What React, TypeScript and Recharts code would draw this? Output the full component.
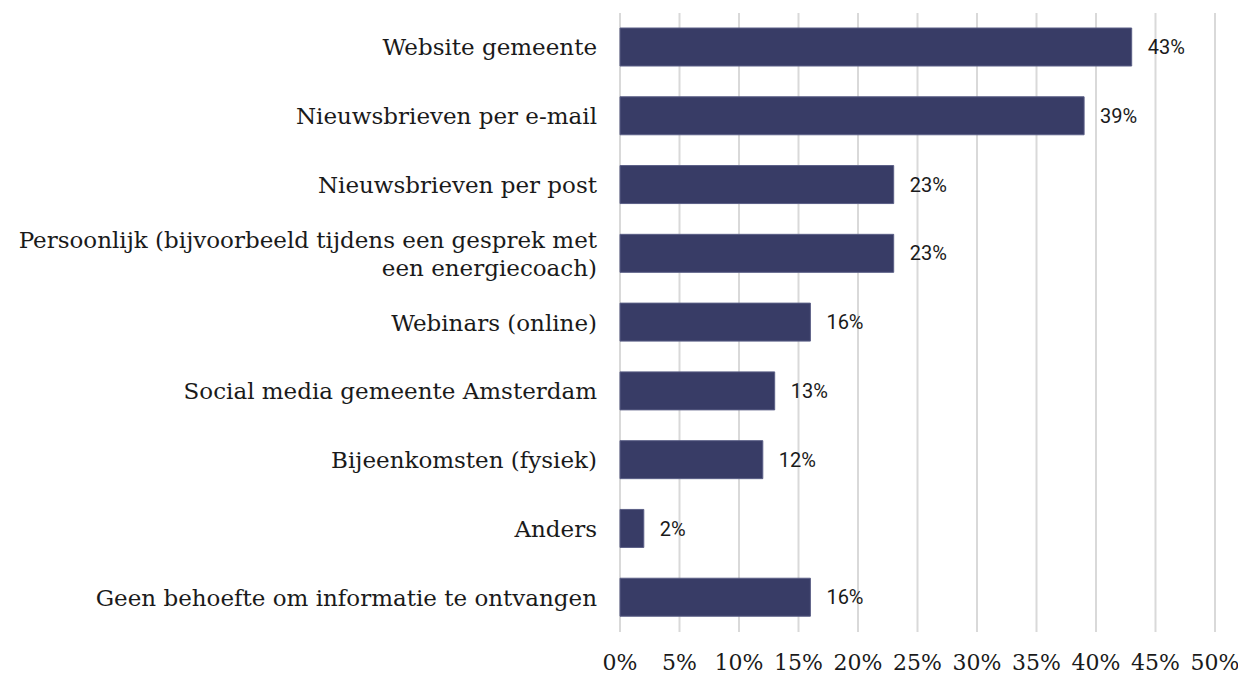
import { BarChart, Bar, XAxis, YAxis, CartesianGrid, LabelList } from "recharts";

// categorieën en percentages
const categories = [
  "Website gemeente",
  "Nieuwsbrieven per e-mail",
  "Nieuwsbrieven per post",
  "Persoonlijk (bijvoorbeeld tijdens een gesprek met een energiecoach)",
  "Webinars (online)",
  "Social media gemeente Amsterdam",
  "Bijeenkomsten (fysiek)",
  "Anders",
  "Geen behoefte om informatie te ontvangen",
];
const percentages = [43, 39, 23, 23, 16, 13, 12, 2, 16];
const xTicks = [0, 5, 10, 15, 20, 25, 30, 35, 40, 45, 50];

const data = categories.map((name, i) => ({ name, value: percentages[i] }));

const SERIF = "'DejaVu Serif', serif";
const MAX_CHARS = 50;

// eenvoudige woordafbreking voor lange labels
const wrap = (s: string) => {
  const words = s.split(" ");
  const lines: string[] = [];
  let cur = "";
  words.forEach((w) => {
    const next = cur ? cur + " " + w : w;
    if (next.length > MAX_CHARS && cur) {
      lines.push(cur);
      cur = w;
    } else {
      cur = next;
    }
  });
  if (cur) lines.push(cur);
  return lines;
};

const CategoryTick = (props: any) => {
  const { x, y, payload } = props;
  const lines = wrap(String(payload.value));
  const lh = 28;
  const startDy = -((lines.length - 1) * lh) / 2;
  return (
    <text
      x={x}
      y={y}
      textAnchor="end"
      fill="#1a1a1a"
      style={{ fontFamily: SERIF, fontSize: 23 }}
    >
      {lines.map((l, i) => (
        <tspan key={i} x={x} dy={i === 0 ? startDy + 8 : lh}>
          {l}
        </tspan>
      ))}
    </text>
  );
};

const App = () => {
  return (
    <div style={{ margin: -8, width: 1246, height: 678, background: "#fff" }}>
      <BarChart
        width={1246}
        height={678}
        data={data}
        layout="vertical"
        margin={{ top: 13, right: 31, bottom: 0, left: 0 }}
      >
        <CartesianGrid horizontal={false} stroke="#d9d9d9" strokeWidth={2} />
        <XAxis
          type="number"
          domain={[0, 50]}
          ticks={xTicks}
          tickFormatter={(v) => `${v}%`}
          axisLine={false}
          tickLine={false}
          tickSize={0}
          tickMargin={22}
          height={46}
          tick={{ fill: "#1a1a1a", fontFamily: SERIF, fontSize: 22 }}
          interval={0}
        />
        <YAxis
          type="category"
          dataKey="name"
          width={620}
          axisLine={false}
          tickLine={false}
          tickSize={0}
          tickMargin={23}
          tick={<CategoryTick />}
          interval={0}
        />
        <Bar
          dataKey="value"
          fill="#383c66"
          stroke="#5b5f86"
          strokeWidth={1}
          barSize={38}
          isAnimationActive={false}
        >
          <LabelList
            dataKey="value"
            position="right"
            offset={16}
            formatter={(v: any) => `${v}%`}
            fill="#1a1a1a"
            style={{ fontFamily: "Roboto, sans-serif", fontSize: 20 }}
          />
        </Bar>
      </BarChart>
    </div>
  );
};

export default App;
